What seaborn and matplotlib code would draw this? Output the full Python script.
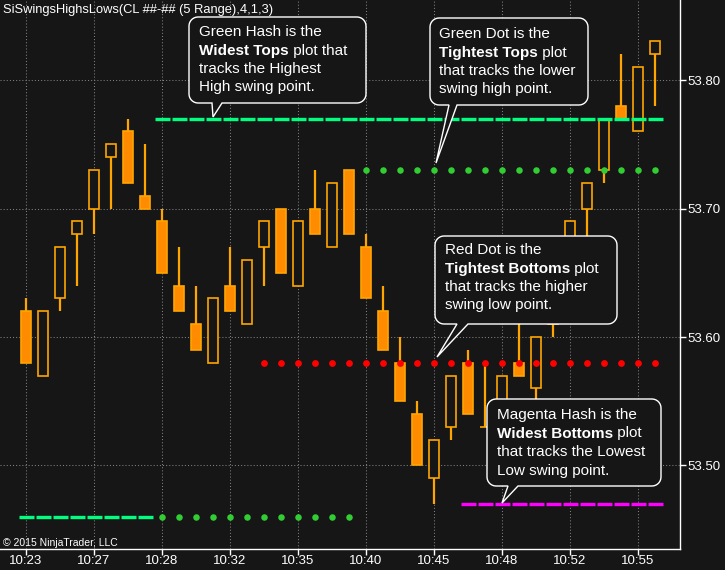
import numpy as np
import pandas as pd
import seaborn as sns
import matplotlib.pyplot as plt
from matplotlib.path import Path
from matplotlib.patches import PathPatch

# bar data (5 tick range bars, CL)
opens = [53.62, 53.57, 53.63, 53.68, 53.70, 53.74, 53.76, 53.71, 53.69, 53.64,
         53.61, 53.58, 53.64, 53.61, 53.67, 53.70, 53.64, 53.70, 53.67, 53.73,
         53.67, 53.62, 53.58, 53.54, 53.49, 53.53, 53.58, 53.53, 53.52, 53.58,
         53.56, 53.61, 53.65, 53.70, 53.73, 53.78, 53.76, 53.82]
highs = [53.63, 53.62, 53.67, 53.69, 53.73, 53.75, 53.77, 53.75, 53.70, 53.67,
         53.64, 53.63, 53.67, 53.66, 53.69, 53.70, 53.69, 53.73, 53.72, 53.73,
         53.68, 53.64, 53.60, 53.55, 53.52, 53.57, 53.59, 53.58, 53.57, 53.62,
         53.60, 53.65, 53.69, 53.72, 53.77, 53.82, 53.81, 53.83]
lows = [53.58, 53.57, 53.62, 53.64, 53.68, 53.70, 53.72, 53.70, 53.65, 53.62,
        53.59, 53.58, 53.62, 53.61, 53.64, 53.65, 53.64, 53.68, 53.67, 53.68,
        53.63, 53.59, 53.55, 53.50, 53.47, 53.52, 53.54, 53.53, 53.52, 53.57,
        53.55, 53.60, 53.64, 53.67, 53.72, 53.77, 53.76, 53.78]
closes = [53.58, 53.62, 53.67, 53.69, 53.73, 53.75, 53.72, 53.70, 53.65, 53.62,
          53.59, 53.63, 53.62, 53.66, 53.69, 53.65, 53.69, 53.68, 53.72, 53.68,
          53.63, 53.59, 53.55, 53.50, 53.52, 53.57, 53.54, 53.53, 53.57, 53.57,
          53.60, 53.65, 53.69, 53.72, 53.77, 53.77, 53.81, 53.83]

nan = np.nan
# indicator plots
widest_tops = [53.46, 53.46, 53.46, 53.46, 53.46, 53.46, 53.46, 53.46, 53.77, 53.77,
               53.77, 53.77, 53.77, 53.77, 53.77, 53.77, 53.77, 53.77, 53.77, 53.77,
               53.77, 53.77, 53.77, 53.77, 53.77, 53.77, 53.77, 53.77, 53.77, 53.77,
               53.77, 53.77, 53.77, 53.77, 53.77, 53.77, 53.77, 53.77]
tightest_tops = [nan, nan, nan, nan, nan, nan, nan, nan, 53.46, 53.46,
                 53.46, 53.46, 53.46, 53.46, 53.46, 53.46, 53.46, 53.46, 53.46, 53.46,
                 53.73, 53.73, 53.73, 53.73, 53.73, 53.73, 53.73, 53.73, 53.73, 53.73,
                 53.73, 53.73, 53.73, 53.73, 53.73, 53.73, 53.73, 53.73]
tightest_bottoms = [nan, nan, nan, nan, nan, nan, nan, nan, nan, nan,
                    nan, nan, nan, nan, 53.58, 53.58, 53.58, 53.58, 53.58, 53.58,
                    53.58, 53.58, 53.58, 53.58, 53.58, 53.58, 53.58, 53.58, 53.58, 53.58,
                    53.58, 53.58, 53.58, 53.58, 53.58, 53.58, 53.58, 53.58]
widest_bottoms = [nan, nan, nan, nan, nan, nan, nan, nan, nan, nan,
                  nan, nan, nan, nan, nan, nan, nan, nan, nan, nan,
                  nan, nan, nan, nan, nan, nan, 53.47, 53.47, 53.47, 53.47,
                  53.47, 53.47, 53.47, 53.47, 53.47, 53.47, 53.47, 53.47]

time_ticks = [0, 4, 8, 12, 16, 20, 24, 28, 32, 36]
time_labels = ["10:23", "10:27", "10:28", "10:32", "10:35",
               "10:40", "10:45", "10:48", "10:52", "10:55"]
price_ticks = [53.50, 53.60, 53.70, 53.80]
price_labels = ["53.50", "53.60", "53.70", "53.80"]

df = pd.DataFrame({"open": opens, "high": highs, "low": lows, "close": closes,
                   "wt": widest_tops, "tt": tightest_tops,
                   "tb": tightest_bottoms, "wb": widest_bottoms})
df["bar"] = np.arange(len(df))

BG = "#161616"
FILL = "#FF8C00"
EDGE = "#FFA500"

sns.set_theme(style="dark", rc={"axes.facecolor": BG, "figure.facecolor": BG,
                                "text.color": "white", "axes.edgecolor": "white"})
plt.rcParams["font.family"] = ["Liberation Sans", "DejaVu Sans"]

W, H = 725, 570
fig = plt.figure(figsize=(W / 100, H / 100), dpi=100)
ax = fig.add_axes([0, 1 - 549 / H, 680 / W, 549 / H])
ax.set_facecolor(BG)

# candles
down = df["close"] < df["open"]
ax.vlines(df["bar"], df["low"], df["high"], color=EDGE, lw=1.6, zorder=2)
ax.bar(df["bar"], (df["close"] - df["open"]).abs(),
       bottom=df[["open", "close"]].min(axis=1), width=0.62,
       color=[FILL if d else BG for d in down], edgecolor=EDGE, linewidth=1.2, zorder=3)

# swing plots
ax.plot(df["bar"], df["wt"], ls="none", marker="_", ms=10.8, mew=2.4, color="#00FF7F", zorder=4)
ax.plot(df["bar"], df["wb"], ls="none", marker="_", ms=10.8, mew=2.4, color="#FF00FF", zorder=4)
sns.scatterplot(x=df["bar"], y=df["tt"], color="#32CD32", s=22, linewidth=0, ax=ax, zorder=4)
sns.scatterplot(x=df["bar"], y=df["tb"], color="#FF0000", s=24, linewidth=0, ax=ax, zorder=4)

ax.set_xlim(-1.53, 38.47)
ax.set_ylim(53.435, 53.8623)
ax.set_xticks(time_ticks)
ax.set_xticklabels(time_labels)
ax.set_yticks(price_ticks)
ax.set_yticklabels(price_labels)
ax.set_xlabel("")
ax.set_ylabel("")
ax.yaxis.tick_right()
ax.tick_params(axis="both", colors="white", length=4, width=1, labelsize=9.5, pad=1,
               bottom=True, right=True, left=False)
ax.tick_params(axis="x", pad=0.5)
ax.grid(True, color="#808080", ls=(0, (1, 2)), lw=0.75)
for s in ["top", "left"]:
    ax.spines[s].set_visible(False)
for s in ["right", "bottom"]:
    ax.spines[s].set_color("white")
    ax.spines[s].set_linewidth(1)


def fx(x, y):
    return (x / W, 1 - y / H)


def bubble(x0, y0, x1, y1, base, tip, r=9):
    pts = []
    for cx, cy, a0, a1 in [(x0 + r, y0 + r, np.pi, 1.5 * np.pi),
                           (x1 - r, y0 + r, 1.5 * np.pi, 2 * np.pi),
                           (x1 - r, y1 - r, 0, 0.5 * np.pi)]:
        for a in np.linspace(a0, a1, 8):
            pts.append((cx + r * np.cos(a), cy + r * np.sin(a)))
    pts += [(base[1], y1), tip, (base[0], y1)]
    for a in np.linspace(0.5 * np.pi, np.pi, 8):
        pts.append((x0 + r + r * np.cos(a), y1 - r + r * np.sin(a)))
    pts.append(pts[0])
    verts = [fx(px, py) for px, py in pts]
    codes = [Path.MOVETO] + [Path.LINETO] * (len(verts) - 2) + [Path.CLOSEPOLY]
    ax.add_patch(PathPatch(Path(verts, codes), facecolor=BG, edgecolor="white", lw=1,
                           transform=fig.transFigure, clip_on=False, zorder=10))


def note(x, ys, line1, bold, rest, line3, line4):
    ax.text(*fx(x, ys[0]), line1, transform=fig.transFigure, fontsize=11,
            va="baseline", color="white", zorder=11)
    b = ax.text(*fx(x, ys[1]), bold, transform=fig.transFigure, fontsize=11,
                fontweight="bold", va="baseline", color="white", zorder=11)
    ax.annotate(rest, xy=(1, 0), xycoords=b, va="bottom", ha="left", fontsize=11,
                color="white", zorder=11)
    ax.text(*fx(x, ys[2]), line3, transform=fig.transFigure, fontsize=11,
            va="baseline", color="white", zorder=11)
    ax.text(*fx(x, ys[3]), line4, transform=fig.transFigure, fontsize=11,
            va="baseline", color="white", zorder=11)


bubble(189, 17, 366, 103, (212, 222), (213, 117))
note(199, [36, 54.5, 73, 91.5], "Green Hash is the", "Widest Tops", " plot that",
     "tracks the Highest", "High swing point.")

bubble(430, 18, 588, 105, (449, 457), (436, 163))
note(439, [38, 56.5, 75, 93.5], "Green Dot is the", "Tightest Tops", " plot",
     "that tracks the lower", "swing high point.")

bubble(435, 236, 617, 324, (457, 468), (437, 357))
note(445, [254, 272.5, 291, 309.5], "Red Dot is the", "Tightest Bottoms", " plot",
     "that tracks the higher", "swing low point.")

bubble(487, 399, 661, 486, (508, 518), (502, 503))
note(497, [419, 437.5, 456, 474.5], "Magenta Hash is the", "Widest Bottoms", " plot",
     "that tracks the Lowest", "Low swing point.")

fig.text(*fx(3, 12.5), "SiSwingsHighsLows(CL ##-## (5 Range),4,1,3)", fontsize=9.3,
         color="white", va="baseline")
fig.text(*fx(3, 546), "\u00a9 2015 NinjaTrader, LLC", fontsize=7.5, color="white",
         va="baseline")

fig.savefig("out.png", dpi=100, facecolor=BG)
